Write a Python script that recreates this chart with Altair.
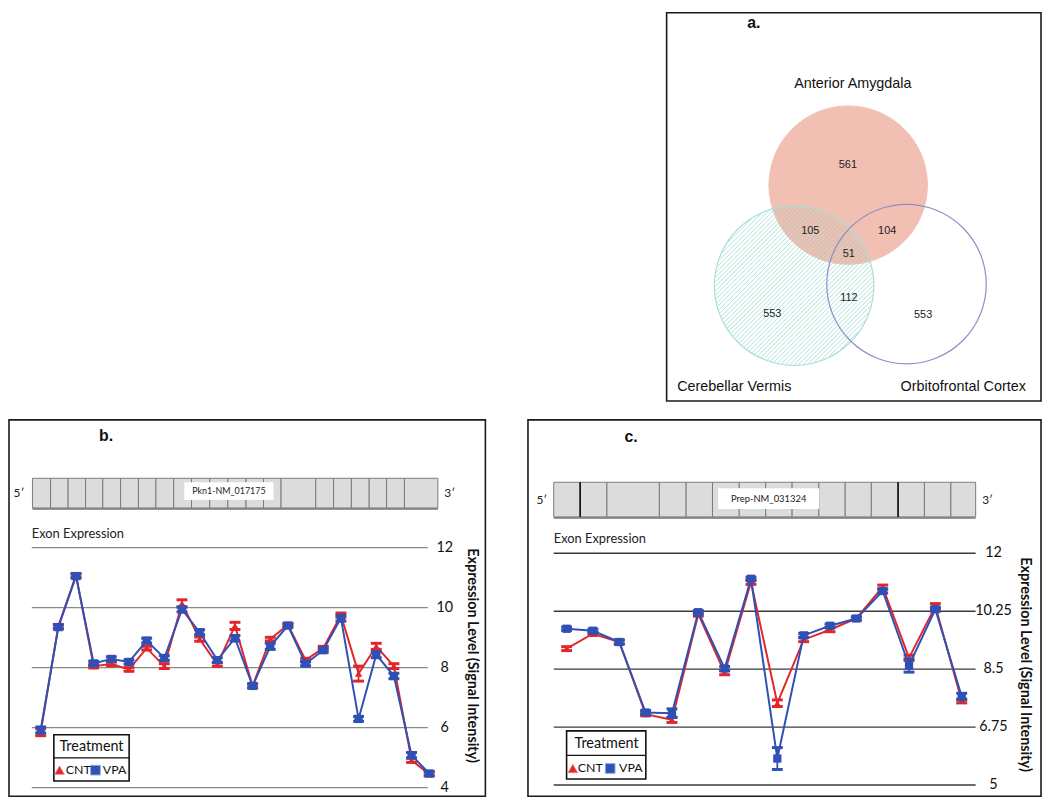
import altair as alt
import numpy as np
import pandas as pd

# ============================ data ============================
# Panel a: Venn diagram
venn_sets = ["Anterior Amygdala", "Cerebellar Vermis", "Orbitofrontal Cortex"]
venn_regions = ["AA only", "AA & CV", "AA & OFC", "AA & CV & OFC", "CV & OFC", "CV only", "OFC only"]
venn_counts = [561, 105, 104, 51, 112, 553, 553]

# Panel b: Pkn1-NM_017175
b_gene = "Pkn1-NM_017175"
b_cnt = [5.85, 9.38, 11.08, 8.05, 8.12, 7.94, 8.65, 8.05, 10.14, 8.95, 8.10, 9.39,
         7.39, 8.95, 9.43, 8.25, 8.65, 9.75, 7.80, 8.71, 8.05, 4.91, 4.45]
b_cnt_err = [0.12, 0.06, 0.06, 0.06, 0.06, 0.06, 0.06, 0.08, 0.12, 0.07, 0.06, 0.12,
             0.06, 0.06, 0.05, 0.06, 0.06, 0.07, 0.25, 0.10, 0.08, 0.07, 0.06]
b_vpa = [5.92, 9.35, 11.05, 8.14, 8.29, 8.19, 8.90, 8.32, 9.94, 9.18, 8.25, 8.98,
         7.39, 8.71, 9.40, 8.13, 8.58, 9.65, 6.29, 8.43, 7.72, 5.08, 4.47]
b_vpa_err = [0.10, 0.07, 0.07, 0.07, 0.07, 0.07, 0.08, 0.08, 0.08, 0.08, 0.08, 0.09,
             0.07, 0.10, 0.06, 0.07, 0.07, 0.10, 0.08, 0.10, 0.09, 0.09, 0.07]
b_ticks = [4, 6, 8, 10, 12]
b_tick_labels = ["4", "6", "8", "10", "12"]

# Panel c: Prep-NM_031324
c_gene = "Prep-NM_031324"
c_cnt = [9.12, 9.57, 9.32, 7.14, 6.97, 10.16, 8.39, 11.13, 7.47, 9.39, 9.69, 10.03,
         10.98, 8.84, 10.40, 7.54]
c_cnt_err = [0.06, 0.05, 0.06, 0.05, 0.08, 0.06, 0.06, 0.07, 0.10, 0.06, 0.06, 0.05,
             0.06, 0.08, 0.08, 0.06]
c_vpa = [9.72, 9.66, 9.32, 7.19, 7.17, 10.22, 8.52, 11.23, 5.80, 9.52, 9.81, 10.03,
         10.86, 8.61, 10.31, 7.67]
c_vpa_err = [0.05, 0.05, 0.06, 0.06, 0.13, 0.05, 0.06, 0.05, 0.33, 0.06, 0.05, 0.05,
             0.06, 0.20, 0.06, 0.10]
c_ticks = [5, 6.75, 8.5, 10.25, 12]
c_tick_labels = ["5", "6.75", "8.5", "10.25", "12"]

series_names = ["CNT", "VPA"]
legend_title = "Treatment"
axis_title = "Expression Level (Signal Intensity)"
sub_title = "Exon Expression"

# ============================ styles / layout ============================
RED = "#E2262B"
BLUE = "#2F50B4"
SALMON = "#F2C0B2"
PURPLE = "#8E8EC8"
FONT = "Lato"
VFONT = "Liberation Sans"

B = dict(W=481, H=380, xdom=[-0.795, 26.18], ydom=[3.713, 16.259],
         letter="b.", letter_xy=(98, 16),
         bar_x=[23.7, 42, 59.7, 77.3, 94.7, 112.7, 130.7, 148.3, 166.3, 184.3, 202.7, 221,
                239.3, 257, 274.7, 309.7, 327.7, 345.7, 363.7, 381.3, 399.3, 433],
         bar_y=(59, 89), dark=[], label_box=(177, 267, 63, 81), label_size=9,
         five_xy=(10, 74), three_xy=(445, 74), sub_xy=(23, 115),
         grid_x=(23, 423), tick_x=440, title_xy=(467, 238),
         leg=(45.3, 121.3, 318, 364.7, 341.3), leg_title_xy=(83.3, 330), leg_row_y=353.7,
         leg_tri_x=51, leg_cnt_x=57.3, leg_sq_x=87.3, leg_vpa_x=94.7,
         grid_color="#8a8a8a")

C = dict(W=518, H=380, xdom=[-0.466, 19.01], ydom=[4.662, 16.03],
         letter="c.", letter_xy=(104, 17),
         bar_x=[26, 52.7, 79.7, 132.7, 159.7, 186.3, 213.3, 240, 266.7, 293.7, 320.3,
                346.7, 373.7, 400.3, 427, 452],
         bar_y=(63, 98), dark=[52.7, 373.7], label_box=(192, 294, 69, 90), label_size=9.5,
         five_xy=(14, 81), three_xy=(464, 81), sub_xy=(26, 120),
         grid_x=(26, 452), tick_x=470, title_xy=(502, 247),
         leg=(39, 119, 314, 362.7, 338.7), leg_title_xy=(79.3, 327), leg_row_y=352,
         leg_tri_x=45.3, leg_cnt_x=50.3, leg_sq_x=83, leg_vpa_x=92,
         grid_color="#3a3a3a")

A = dict(W=378, H=392, letter_xy=(88, 10), title_xy=(188, 72),
         circles=[(183.3, 174.0, 80.0), (128.7, 275.5, 80.5), (242.2, 274.0, 80.5)],
         region_xy=[(183, 154), (145, 220), (222.7, 220), (184, 244), (184, 288),
                    (106.7, 304), (259, 305)],
         cv_label=(10.7, 378), ofc_label=(362.7, 378), hatch_step=3.2)

DUMMY = pd.DataFrame({"d": [0]})


def text_layer(rows, **mk):
    df = pd.DataFrame(rows, columns=["t", "x", "y"])
    return alt.Chart(df).mark_text(**mk).encode(
        x=alt.X("x:Q", scale=None, axis=None),
        y=alt.Y("y:Q", scale=None, axis=None),
        text="t:N",
    )


def expr_panel(L, gene, cnt, cnt_err, vpa, vpa_err, ticks, tick_labels):
    n = len(cnt)
    idx = list(range(1, n + 1))
    data = pd.DataFrame({
        "exon": idx + idx,
        "series": [series_names[0]] * n + [series_names[1]] * n,
        "value": cnt + vpa,
        "err": cnt_err + vpa_err,
    })
    data["lo"] = data["value"] - data["err"]
    data["hi"] = data["value"] + data["err"]
    xs = alt.Scale(domain=L["xdom"], nice=False, zero=False)
    ys = alt.Scale(domain=L["ydom"], nice=False, zero=False)
    X = alt.X("exon:Q", scale=xs, axis=None)

    layers = []
    grid = pd.DataFrame({"v": ticks, "lab": tick_labels})
    layers.append(alt.Chart(grid).mark_rule(color=L["grid_color"], strokeWidth=1.4).encode(
        y=alt.Y("v:Q", scale=ys, axis=None),
        x=alt.value(L["grid_x"][0]), x2=alt.value(L["grid_x"][1])))
    layers.append(alt.Chart(grid).mark_text(font=FONT, fontSize=14.5, color="#111",
                                            align="center", baseline="middle").encode(
        y=alt.Y("v:Q", scale=ys, axis=None), x=alt.value(L["tick_x"]), text="lab:N"))

    # exon structure bar
    bx = L["bar_x"]
    exons = pd.DataFrame({"x0": bx[:-1], "x1": bx[1:]})
    layers.append(alt.Chart(exons).mark_rect(fill="#DCDCDC", stroke="#7a7a7a", strokeWidth=1).encode(
        x=alt.X("x0:Q", scale=None, axis=None), x2="x1:Q",
        y=alt.value(L["bar_y"][0]), y2=alt.value(L["bar_y"][1])))
    layers.append(alt.Chart(DUMMY).mark_rule(color="#555", strokeWidth=2, opacity=0.6).encode(
        x=alt.value(bx[0]), x2=alt.value(bx[-1]), y=alt.value(L["bar_y"][1] + 1)))
    if L["dark"]:
        dk = pd.DataFrame({"x": L["dark"]})
        layers.append(alt.Chart(dk).mark_rule(color="#111", strokeWidth=1.6).encode(
            x=alt.X("x:Q", scale=None, axis=None),
            y=alt.value(L["bar_y"][0]), y2=alt.value(L["bar_y"][1])))
    lb = L["label_box"]
    layers.append(alt.Chart(DUMMY).mark_rect(fill="white").encode(
        x=alt.value(lb[0]), x2=alt.value(lb[1]), y=alt.value(lb[2]), y2=alt.value(lb[3])))
    layers.append(text_layer([(gene, (lb[0] + lb[1]) / 2, (lb[2] + lb[3]) / 2)],
                             font=FONT, fontSize=L["label_size"], color="#222",
                             align="center", baseline="middle"))
    layers.append(text_layer([("5\u2032", *L["five_xy"]), ("3\u2032", *L["three_xy"])],
                             font=FONT, fontSize=12, color="#222", align="center", baseline="middle"))
    layers.append(text_layer([(sub_title, *L["sub_xy"])], font=FONT, fontSize=13,
                             color="#222", align="left", baseline="middle"))
    layers.append(text_layer([(L["letter"], *L["letter_xy"])], font=VFONT, fontSize=16,
                             fontWeight="bold", color="#111", align="center", baseline="middle"))
    layers.append(text_layer([(axis_title, *L["title_xy"])], font=FONT, fontSize=14.5,
                             fontWeight="bold", color="#111", angle=90,
                             align="center", baseline="middle"))

    # series
    styles = {series_names[0]: (RED, "triangle-up", 55), series_names[1]: (BLUE, "square", 70)}
    for s in series_names:
        color, shape, size = styles[s]
        d = data[data["series"] == s]
        caps = pd.concat([d.assign(cap=d["lo"]), d.assign(cap=d["hi"])])
        base = alt.Chart(d)
        layers.append(base.mark_rule(color=color, strokeWidth=1.8).encode(
            x=X, y=alt.Y("lo:Q", scale=ys, axis=None), y2="hi:Q"))
        layers.append(alt.Chart(caps).mark_tick(orient="horizontal", color=color, size=11,
                                                thickness=3, opacity=1).encode(
            x=X, y=alt.Y("cap:Q", scale=ys, axis=None)))
        layers.append(base.mark_line(color=color, strokeWidth=2).encode(
            x=X, y=alt.Y("value:Q", scale=ys, axis=None)))
        layers.append(base.mark_point(shape=shape, filled=True, color=color, size=size,
                                      opacity=1).encode(
            x=X, y=alt.Y("value:Q", scale=ys, axis=None)))

    # legend
    lg = L["leg"]
    layers.append(alt.Chart(DUMMY).mark_rect(fill="white", stroke="#111", strokeWidth=1.6).encode(
        x=alt.value(lg[0]), x2=alt.value(lg[1]), y=alt.value(lg[2]), y2=alt.value(lg[3])))
    layers.append(alt.Chart(DUMMY).mark_rule(color="#111", strokeWidth=1.3).encode(
        x=alt.value(lg[0]), x2=alt.value(lg[1]), y=alt.value(lg[4])))
    layers.append(text_layer([(legend_title, *L["leg_title_xy"])], font=FONT, fontSize=14.5,
                             color="#111", align="center", baseline="middle"))
    ry = L["leg_row_y"]
    layers.append(alt.Chart(DUMMY).mark_point(shape="triangle-up", filled=True, fill=RED,
                                              stroke="#f08080", strokeWidth=0.8, size=95,
                                              opacity=1).encode(
        x=alt.value(L["leg_tri_x"]), y=alt.value(ry)))
    layers.append(alt.Chart(DUMMY).mark_point(shape="square", filled=True, fill=BLUE,
                                              stroke="#8aa6e6", strokeWidth=1, size=95,
                                              opacity=1).encode(
        x=alt.value(L["leg_sq_x"]), y=alt.value(ry)))
    layers.append(text_layer([(series_names[0], L["leg_cnt_x"], ry), (series_names[1], L["leg_vpa_x"], ry)],
                             font=FONT, fontSize=12.5, color="#111", align="left", baseline="middle"))

    return alt.layer(*layers).properties(width=L["W"], height=L["H"]).resolve_scale(
        x="independent", y="independent")


def hatch_segments(cx, cy, r, step):
    # "/" hatch texture clipped to a circle (decoration only)
    rows = []
    nx, ny = 1 / np.sqrt(2), 1 / np.sqrt(2)
    dx, dy = 1 / np.sqrt(2), -1 / np.sqrt(2)
    t = -r + step / 2
    while t < r:
        h = np.sqrt(max(r * r - t * t, 0))
        mx, my = cx + t * nx, cy + t * ny
        rows.append((mx - h * dx, my - h * dy, mx + h * dx, my + h * dy))
        t += step
    return pd.DataFrame(rows, columns=["x1", "y1", "x2", "y2"])


def venn_panel(L):
    layers = []
    (ax, ay, ar), (bx_, by_, br), (ox, oy, orr) = L["circles"]
    circ = lambda cx, cy, r, name, **style: alt.Chart(
        pd.DataFrame({"set": [name], "cx": [cx], "cy": [cy]})).mark_point(
        shape="circle", size=float((2 * r) ** 2), opacity=1, **style).encode(
        x=alt.X("cx:Q", scale=None, axis=None), y=alt.Y("cy:Q", scale=None, axis=None))
    layers.append(circ(ax, ay, ar, venn_sets[0], filled=True, fill=SALMON, stroke=SALMON,
                       strokeWidth=1, fillOpacity=1))
    hatch = hatch_segments(bx_, by_, br - 0.8, L["hatch_step"])
    layers.append(alt.Chart(hatch).mark_rule(color="#7fcfc2", strokeWidth=0.9, opacity=0.7).encode(
        x=alt.X("x1:Q", scale=None, axis=None), y=alt.Y("y1:Q", scale=None, axis=None),
        x2="x2:Q", y2="y2:Q"))
    layers.append(circ(bx_, by_, br, venn_sets[1], filled=False, fill="transparent",
                       stroke="#a6ded5", strokeWidth=1.2))
    layers.append(circ(ox, oy, orr, venn_sets[2], filled=False, fill="transparent",
                       stroke=PURPLE, strokeWidth=1.2))
    rows = [(str(c), x, y) for c, (x, y) in zip(venn_counts, L["region_xy"])]
    layers.append(text_layer(rows, font=VFONT, fontSize=11, color="#222",
                             align="center", baseline="middle"))
    layers.append(text_layer([(venn_sets[0], *L["title_xy"])], font=VFONT, fontSize=14.5,
                             color="#111", align="center", baseline="middle"))
    layers.append(text_layer([(venn_sets[1], *L["cv_label"])], font=VFONT, fontSize=14.5,
                             color="#111", align="left", baseline="middle"))
    layers.append(text_layer([(venn_sets[2], *L["ofc_label"])], font=VFONT, fontSize=14.5,
                             color="#111", align="right", baseline="middle"))
    layers.append(text_layer([("a.", *L["letter_xy"])], font=VFONT, fontSize=16,
                             fontWeight="bold", color="#111", align="center", baseline="middle"))
    return alt.layer(*layers).properties(width=L["W"], height=L["H"]).resolve_scale(
        x="independent", y="independent")


spacer = alt.Chart(DUMMY).mark_text(text=" ").encode(
    x=alt.value(20), y=alt.value(20)).properties(
    width=642, height=A["H"], view=alt.ViewBackground(stroke="transparent"))

top = alt.hconcat(spacer, venn_panel(A), spacing=20)
bottom = alt.hconcat(
    expr_panel(B, b_gene, b_cnt, b_cnt_err, b_vpa, b_vpa_err, b_ticks, b_tick_labels),
    expr_panel(C, c_gene, c_cnt, c_cnt_err, c_vpa, c_vpa_err, c_ticks, c_tick_labels),
    spacing=41)

chart = alt.vconcat(top, bottom, spacing=17).properties(padding=0, background="white").configure_view(
    stroke="#1a1a1a", strokeWidth=1.6)

chart.save("out.html", embed_options={"renderer": "svg", "actions": False})
